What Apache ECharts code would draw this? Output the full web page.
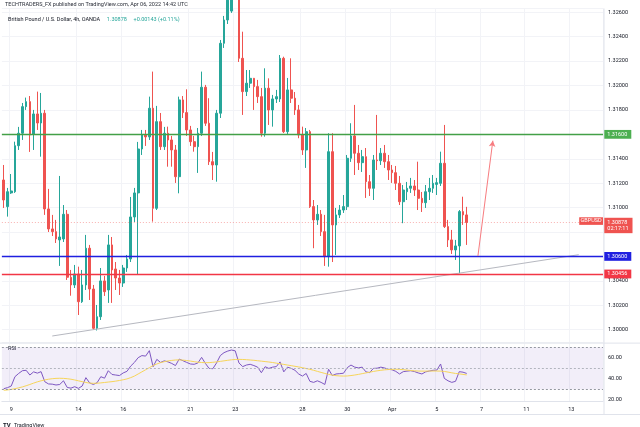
<!DOCTYPE html>
<html>
<head>
<meta charset="utf-8">
<script src="https://cdn.jsdelivr.net/npm/echarts/dist/echarts.min.js"></script>
<style>
html,body{margin:0;padding:0;background:#ffffff;}
#c{width:640px;height:427px;}
</style>
</head>
<body>
<div id="c"></div>
<script>
// ---------------- data ----------------
const tradingDays = ['Mar 8','Mar 9','Mar 10','Mar 11','Mar 14','Mar 15','Mar 16','Mar 17','Mar 18',
  'Mar 21','Mar 22','Mar 23','Mar 24','Mar 25','Mar 28','Mar 29','Mar 30','Mar 31','Apr 1',
  'Apr 4','Apr 5','Apr 6','Apr 7','Apr 8','Apr 11','Apr 12','Apr 13','Apr 14'];
const sessions = ['00:00','04:00','08:00','12:00','16:00','20:00'];
const firstCandle = 'Mar 8 16:00';
const dayTickLabels = {'Mar 9':'9','Mar 14':'14','Mar 16':'16','Mar 21':'21','Mar 23':'23','Mar 28':'28',
  'Mar 30':'30','Apr 1':'Apr','Apr 5':'5','Apr 7':'7','Apr 11':'11','Apr 13':'13'};

const open = [1.31226,1.31008,1.31120,1.31130,1.31507,1.31609,1.31827,1.31868,1.31603,1.31767,1.31693,1.31773,
  1.30989,1.30825,1.30803,1.30735,1.30743,1.30945,1.30429,1.30366,1.30456,1.30229,1.30366,1.30667,1.30333,
  1.30011,1.30106,1.30399,1.30325,1.30694,1.30497,1.30423,1.30382,1.30505,1.30579,1.30923,1.31120,1.31480,
  1.31595,1.31579,1.31814,1.30994,1.31704,1.31499,1.31609,1.31554,1.31472,1.31253,1.31882,1.31778,1.31636,
  1.31540,1.31499,1.31609,1.31986,1.31691,1.31376,1.31349,1.31773,1.32346,1.32537,1.32610,1.32850,1.32780,
  1.32223,1.31950,1.32019,1.32059,1.31991,1.31909,1.31609,1.31978,1.31800,1.31890,1.31890,1.32223,1.31622,
  1.31964,1.31896,1.31800,1.31595,1.31472,1.31622,1.31008,1.30899,1.30945,1.30803,1.30598,1.31458,1.30858,
  1.30940,1.30980,1.31008,1.31404,1.31587,1.31445,1.31368,1.31417,1.31212,1.31158,1.31390,1.31384,1.31445,
  1.31376,1.31308,1.31286,1.31199,1.31048,1.31130,1.31158,1.31177,1.31144,1.31076,1.31040,1.31130,1.31158,
  1.31190,1.31199,1.31363,1.30844,1.30735,1.30653,1.30686,1.30967,1.30940];
const close = [1.31062,1.31130,1.31136,1.31507,1.31609,1.31827,1.31868,1.31595,1.31767,1.31693,1.31773,1.30989,
  1.30825,1.30803,1.30743,1.30759,1.30945,1.30429,1.30366,1.30456,1.30229,1.30366,1.30667,1.30333,1.30011,
  1.30106,1.30399,1.30311,1.30694,1.30489,1.30423,1.30382,1.30505,1.30579,1.30923,1.31120,1.31480,1.31595,
  1.31579,1.31814,1.30994,1.31704,1.31499,1.31609,1.31554,1.31472,1.31253,1.31882,1.31778,1.31636,1.31540,
  1.31499,1.31609,1.31986,1.31691,1.31376,1.31349,1.31773,1.32346,1.32537,1.32700,1.32800,1.32780,1.32223,
  1.31950,1.32019,1.32059,1.31991,1.31909,1.31609,1.31978,1.31800,1.31890,1.31909,1.32223,1.31622,1.31964,
  1.31896,1.31800,1.31595,1.31472,1.31622,1.31008,1.30899,1.30945,1.30803,1.30598,1.31458,1.30858,1.30940,
  1.30980,1.31008,1.31404,1.31587,1.31445,1.31368,1.31417,1.31212,1.31158,1.31390,1.31384,1.31445,1.31376,
  1.31308,1.31286,1.31199,1.31048,1.31144,1.31158,1.31177,1.31144,1.31076,1.31040,1.31130,1.31158,1.31199,
  1.31204,1.31363,1.30844,1.30735,1.30653,1.30686,1.30967,1.30940,1.30878];
const high = [1.31349,1.31161,1.31275,1.31540,1.31661,1.31857,1.31901,1.31914,1.31800,1.31950,1.31939,1.31800,
  1.31153,1.30940,1.30899,1.31259,1.31021,1.30980,1.30489,1.30530,1.30516,1.30489,1.30776,1.30694,1.30366,
  1.30202,1.30505,1.30440,1.30776,1.30759,1.30554,1.30489,1.30530,1.30612,1.31087,1.31161,1.31538,1.31636,
  1.31636,1.31909,1.32114,1.31833,1.31775,1.31661,1.31663,1.31587,1.31513,1.31909,1.31914,1.31969,1.31669,
  1.31587,1.31652,1.32114,1.32005,1.31896,1.31456,1.31800,1.32373,1.32570,1.32742,1.32865,1.32980,1.32800,
  1.32441,1.32127,1.32127,1.32062,1.32046,1.31980,1.32141,1.32059,1.31923,1.31964,1.32250,1.32236,1.32062,
  1.32223,1.31947,1.31841,1.31663,1.31652,1.31636,1.31062,1.31021,1.30980,1.30940,1.31609,1.31609,1.30997,
  1.31021,1.31103,1.31431,1.31691,1.31841,1.31513,1.31472,1.31488,1.31267,1.31431,1.31759,1.31488,1.31513,
  1.31431,1.31349,1.31341,1.31259,1.31185,1.31210,1.31243,1.31226,1.31376,1.31128,1.31185,1.31243,1.31267,
  1.31243,1.31458,1.31677,1.30899,1.30817,1.30735,1.30980,1.31089,1.31006];
const low = [1.30997,1.30926,1.31112,1.31120,1.31472,1.31554,1.31800,1.31456,1.31472,1.31636,1.31417,1.30940,
  1.30800,1.30767,1.30710,1.30522,1.30718,1.30407,1.30278,1.30341,1.30120,1.30219,1.30325,1.30243,1.29997,
  1.29993,1.30079,1.30276,1.30219,1.30219,1.30325,1.30284,1.30350,1.30473,1.30554,1.30882,1.30448,1.31431,
  1.31505,1.31554,1.30885,1.30980,1.31472,1.31472,1.31335,1.31335,1.31202,1.31117,1.31734,1.31587,1.31505,
  1.31458,1.31284,1.31587,1.31669,1.31349,1.31226,1.31212,1.31734,1.32308,1.32504,1.32595,1.32720,1.32193,
  1.31759,1.31914,1.31980,1.31800,1.31857,1.31581,1.31581,1.31677,1.31663,1.31857,1.31865,1.31611,1.31595,
  1.31857,1.31759,1.31568,1.31431,1.31325,1.30997,1.30667,1.30858,1.30767,1.30522,1.30516,1.30554,1.30612,
  1.30915,1.30956,1.30980,1.31374,1.31267,1.31308,1.31292,1.31079,1.31095,1.31062,1.31308,1.31349,1.31325,
  1.31226,1.31202,1.31144,1.31021,1.30872,1.31062,1.31120,1.31095,1.30980,1.30964,1.30997,1.31062,1.31120,
  1.31103,1.31177,1.30833,1.30677,1.30620,1.30571,1.30462,1.30858,1.30694];

const rsi = [30.5,31.5,33,41.9,45,47.6,48,43.5,46.5,45.3,46.7,37.1,35,34.8,34,34.5,38,31.7,31,32.4,30.8,33,
  41,36,34.5,36.2,41.9,40.5,47.6,44,43.5,43,45.5,47,52,55.5,60,62,61.5,66.7,51.4,58.4,55.5,57,56,54.5,52.5,
  58.7,57.1,55.5,54,53.7,55,60.3,54.6,49.8,49.5,55,62,64.8,66.3,67.3,66.5,55,51.5,53,53.7,52.5,51,45.7,51.4,
  49.8,51,51.5,56,46.5,51,49.8,48,44.5,42.5,45,37.5,36.5,38,36.5,34.5,49,43,44.5,44.8,45.2,50.5,53,51,50.3,
  51,46.5,45.8,49.8,50,51,50.2,49,48.5,47,44.5,46.7,47.2,47.6,46.8,45.5,44.5,46.5,47.3,48,48.2,54,40.3,38,
  36.5,37.5,46.7,46.2,45];
const rsiMA = [29,29.3,29.8,30.5,31.3,32.2,33.3,34.5,35.8,37,38,38.8,39.5,40,40.3,40.4,40.3,40,39.5,38.8,38,
  37.2,36.4,35.8,35.6,35.7,36,36.4,36.8,37.2,37.7,38.3,39,39.8,41,42.5,44.5,46.5,48.5,50.5,52.5,54,55.3,56.2,
  56.9,57.4,57.8,57.9,57.7,57.3,56.8,56.2,55.7,55.4,55.2,55.3,55.6,56,56.5,57,57.5,58,58.3,58.4,58.3,58.1,
  57.8,57.5,57.1,56.7,56.3,55.9,55.4,54.8,54.2,53.6,53,52.4,51.8,51.2,50.5,49.7,48.9,48,47,46,45,44.1,43.4,
  42.9,42.6,42.5,42.6,43,43.5,44.1,44.8,45.5,46.2,46.9,47.5,48,48.4,48.7,48.9,49,48.9,48.6,48.2,47.8,47.5,
  47.3,47.2,47.2,47.3,47.3,47.3,47.2,46.9,46.3,45.6,45,44.6,44.1,43.6];

const levelResistance = 1.31600;
const levelSupport = 1.30600;
const levelLow = 1.30456;
const lastPrice = 1.30878;
const priceChange = '+0.00143 (+0.11%)';
const countdown = '02:17:11';
const trendLine = [['Mar 10 20:00', 1.29948], ['Apr 13 08:00', 1.30614]];
const projectionArrow = [['Apr 6 20:00', 1.30603], ['Apr 7 12:00', 1.31548]];
const priceRange = [1.29893, 1.32631];
const rsiRange = [18.3, 73.5];

// ---------------- build ----------------
const FONT = 'Roboto, "Liberation Sans", sans-serif';
const categories = [];
tradingDays.forEach(d => sessions.forEach(s => categories.push(d + ' ' + s)));
const start = categories.indexOf(firstCandle);
const cats = categories.slice(start, start + 161);
const candles = open.map((o, i) => [o, close[i], low[i], high[i]]);
const dayOf = v => v.slice(0, v.lastIndexOf(' '));
const isTick = (idx, v) => v.endsWith(' 00:00') && dayTickLabels[dayOf(v)] !== undefined;

const GRID_L = 1.87, GRID_R = 37;
const gridLine = '#f2f3f7';
const sepColor = '#e0e3eb';

const boxLabel = (bg, val) => ({
  show: true, position: 'end', distance: 1.3, color: '#fff', fontSize: 5.5, fontFamily: FONT,
  backgroundColor: bg, padding: [1.6, 4, 1.2, 3], formatter: () => val.toFixed(5)
});

const option = {
  animation: false,
  backgroundColor: '#ffffff',
  grid: [
    {left: GRID_L, right: GRID_R, top: 8.5, height: 334.2, containLabel: false, outerBoundsMode: 'none'},
    {left: GRID_L, right: GRID_R, top: 343.5, height: 58, containLabel: false, outerBoundsMode: 'none'}
  ],
  xAxis: [
    {type: 'category', gridIndex: 0, data: cats, boundaryGap: true,
      axisLine: {show: false}, axisTick: {show: false, alignWithLabel: true, interval: isTick},
      axisLabel: {show: false, interval: isTick},
      splitLine: {show: true, interval: isTick, lineStyle: {color: gridLine, width: 1}}},
    {type: 'category', gridIndex: 1, data: cats, boundaryGap: true,
      axisLine: {show: true, lineStyle: {color: sepColor}}, axisTick: {show: false, alignWithLabel: true, interval: isTick},
      axisLabel: {show: true, interval: isTick, formatter: v => dayTickLabels[dayOf(v)] || '',
        fontSize: 5.5, color: '#131722', fontFamily: FONT, margin: 5},
      splitLine: {show: true, interval: isTick, lineStyle: {color: gridLine, width: 1}}}
  ],
  yAxis: [
    {type: 'value', gridIndex: 0, position: 'right', min: priceRange[0], max: priceRange[1],
      minInterval: 0.002, maxInterval: 0.002, scale: true,
      axisLine: {show: false}, axisTick: {show: false},
      axisLabel: {fontSize: 5.5, color: '#131722', fontFamily: FONT, margin: 5,
        showMinLabel: false, showMaxLabel: false, formatter: v => v.toFixed(5)},
      splitLine: {show: true, lineStyle: {color: gridLine, width: 1}}},
    {type: 'value', gridIndex: 1, position: 'right', min: rsiRange[0], max: rsiRange[1],
      minInterval: 20, maxInterval: 20,
      axisLine: {show: false}, axisTick: {show: false},
      axisLabel: {fontSize: 5.5, color: '#131722', fontFamily: FONT, margin: 5,
        showMinLabel: false, showMaxLabel: false, formatter: v => v.toFixed(2)},
      splitLine: {show: false}}
  ],
  series: [
    {
      type: 'candlestick', xAxisIndex: 0, yAxisIndex: 0, data: candles, barWidth: 2.2, clip: true,
      itemStyle: {color: '#26a69a', color0: '#ef5350', borderColor: '#26a69a', borderColor0: '#ef5350', borderWidth: 1},
      markLine: {
        silent: true, symbol: ['none', 'none'], animation: false, precision: 6,
        data: [
          {yAxis: lastPrice, lineStyle: {color: 'rgba(239,83,80,0.45)', width: 1, type: [1, 2]},
            label: {show: true, position: 'end', distance: 1.3, fontFamily: FONT,
              backgroundColor: '#ef5350', padding: [1.2, 4, 1.2, 3], lineHeight: 6.5,
              formatter: () => '{a|' + lastPrice.toFixed(5) + '}\n{b|' + countdown + '}',
              rich: {a: {color: '#fff', fontSize: 5.5, fontFamily: FONT, lineHeight: 6.5},
                     b: {color: '#fff', fontSize: 5.5, fontFamily: FONT, lineHeight: 6.5}},
              offset: [0, 3]}},
          {yAxis: levelResistance, lineStyle: {color: '#43a047', width: 1.3, type: 'solid'}, label: boxLabel('#4caf50', levelResistance)},
          {yAxis: levelSupport, lineStyle: {color: '#1f1fe0', width: 1.3, type: 'solid'}, label: boxLabel('#1f1fe0', levelSupport)},
          {yAxis: levelLow, lineStyle: {color: '#f23645', width: 1.3, type: 'solid'}, label: boxLabel('#f23645', levelLow)}
        ]
      }
    },
    {
      type: 'line', xAxisIndex: 0, yAxisIndex: 0, data: trendLine, symbol: 'none', silent: true,
      lineStyle: {color: '#b6b8c0', width: 1},
      markLine: {
        silent: true, symbol: ['none', 'arrow'], symbolSize: [5, 6], animation: false, precision: 6,
        lineStyle: {color: '#f77c80', width: 1, type: 'solid'}, label: {show: false},
        data: [[{coord: projectionArrow[0]}, {coord: projectionArrow[1]}]]
      }
    },
    {
      type: 'line', xAxisIndex: 1, yAxisIndex: 1, data: rsi, symbol: 'none', silent: true,
      lineStyle: {color: '#7e57c2', width: 1},
      markArea: {silent: true, itemStyle: {color: 'rgba(126,87,194,0.1)'}, data: [[{yAxis: 70}, {yAxis: 30}]]},
      markLine: {silent: true, symbol: ['none', 'none'], label: {show: false},
        lineStyle: {color: '#9598a1', width: 1, type: [2, 2]},
        data: [{yAxis: 70}, {yAxis: 50, lineStyle: {color: '#b2b5be', type: [2, 2]}}, {yAxis: 30}]}
    },
    {
      type: 'line', xAxisIndex: 1, yAxisIndex: 1, data: rsiMA, symbol: 'none', silent: true, smooth: false,
      lineStyle: {color: '#f7d55a', width: 1}
    }
  ]
};

const chart = echarts.init(document.getElementById('c'), null, {renderer: 'canvas'});
chart.setOption(option);

const yLast = chart.convertToPixel({yAxisIndex: 0}, lastPrice);
const gridRight = 640 - GRID_R;
chart.setOption({
  graphic: [
    {type: 'text', left: 5, top: 1.8, silent: true,
      style: {text: 'TECHTRADERS_FX published on TradingView.com, Apr 06, 2022 14:42 UTC', fontSize: 5.5,
        fontFamily: FONT, fill: '#2a2e39'}},
    {type: 'text', left: 8, top: 13.3, silent: true,
      style: {text: '{a|British Pound / U.S. Dollar, 4h, OANDA}  {b|' + lastPrice.toFixed(5) + '}  {b|' + priceChange + '}',
        rich: {a: {fontSize: 5.5, fontFamily: FONT, fill: '#131722'}, b: {fontSize: 5.5, fontFamily: FONT, fill: '#26a69a'}}}},
    {type: 'text', left: 8, top: 346, silent: true,
      style: {text: 'RSI', fontSize: 5.5, fontFamily: FONT, fill: '#131722'}},
    {type: 'line', silent: true, shape: {x1: 604, y1: 8.5, x2: 604, y2: 414}, style: {stroke: sepColor, lineWidth: 1}},
    {type: 'line', silent: true, shape: {x1: 0, y1: 343.1, x2: 640, y2: 343.1}, style: {stroke: sepColor, lineWidth: 1}},
    {type: 'line', silent: true, shape: {x1: 0, y1: 414.5, x2: 640, y2: 414.5}, style: {stroke: sepColor, lineWidth: 1}},
    {type: 'rect', silent: true, shape: {x: gridRight - 23.8, y: yLast - 5.2, width: 23.8, height: 7.6},
      style: {fill: '#ef5350'}},
    {type: 'text', silent: true, x: gridRight - 11.9, y: yLast - 1.4,
      style: {text: 'GBPUSD', fontSize: 5.5, fontFamily: FONT, fill: '#ffffff', align: 'center', verticalAlign: 'middle'}},
    {type: 'text', left: 3, top: 419.5, silent: true,
      style: {text: '{l|TV} {t|TradingView}', rich: {l: {fontSize: 6, fontWeight: 'bold', fontFamily: FONT, fill: '#131722'},
        t: {fontSize: 5.5, fontFamily: FONT, fill: '#131722'}}}}
  ]
});
</script>
</body>
</html>
